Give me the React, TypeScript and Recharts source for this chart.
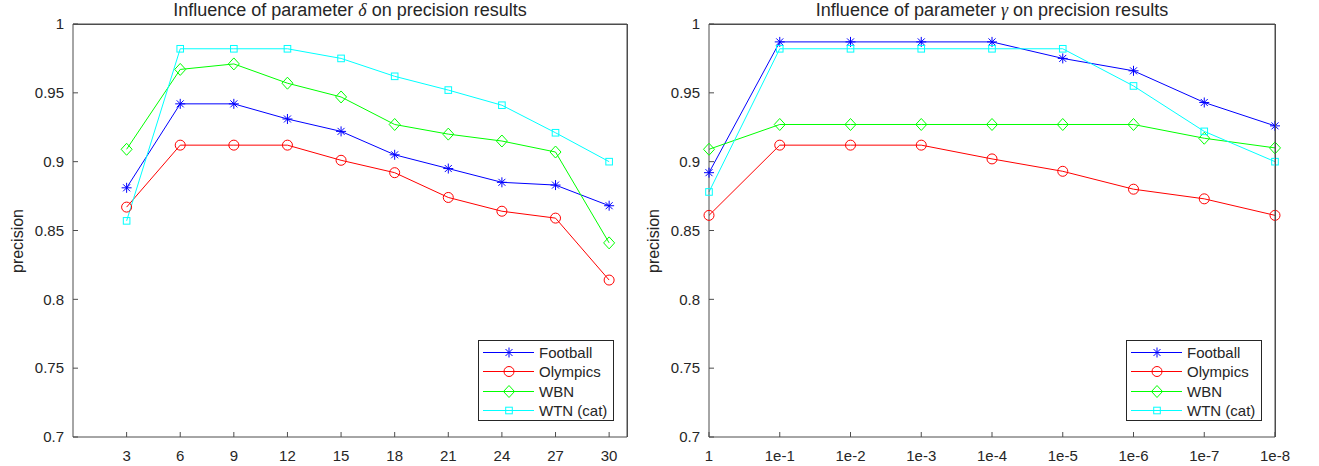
import React from 'react';
import { LineChart, Line, XAxis, YAxis } from 'recharts';

// x values
const deltaValues = [3, 6, 9, 12, 15, 18, 21, 24, 27, 30];
const gammaLabels = ['1', '1e-1', '1e-2', '1e-3', '1e-4', '1e-5', '1e-6', '1e-7', '1e-8'];
const precisionTicks = [0.7, 0.75, 0.8, 0.85, 0.9, 0.95, 1];

// precision vs delta
const deltaFootball = [0.881, 0.942, 0.942, 0.931, 0.922, 0.905, 0.895, 0.885, 0.883, 0.868];
const deltaOlympics = [0.867, 0.912, 0.912, 0.912, 0.901, 0.892, 0.874, 0.864, 0.859, 0.814];
const deltaWBN = [0.909, 0.967, 0.971, 0.957, 0.947, 0.927, 0.92, 0.915, 0.907, 0.841];
const deltaWTN = [0.857, 0.982, 0.982, 0.982, 0.975, 0.962, 0.952, 0.941, 0.921, 0.9];

// precision vs gamma
const gammaFootball = [0.892, 0.987, 0.987, 0.987, 0.987, 0.975, 0.966, 0.943, 0.926];
const gammaOlympics = [0.861, 0.912, 0.912, 0.912, 0.902, 0.893, 0.88, 0.873, 0.861];
const gammaWBN = [0.909, 0.927, 0.927, 0.927, 0.927, 0.927, 0.927, 0.917, 0.91];
const gammaWTN = [0.878, 0.982, 0.982, 0.982, 0.982, 0.982, 0.955, 0.922, 0.9];

// half of the series sit on the top/right axes so those (box) axes get drawn too
const seriesInfo = [
  { key: 'football', name: 'Football', color: '#0000ff', marker: 'star', xId: 'bottom', yId: 'left' },
  { key: 'olympics', name: 'Olympics', color: '#ff0000', marker: 'circle', xId: 'bottom', yId: 'left' },
  { key: 'wbn', name: 'WBN', color: '#00ff00', marker: 'diamond', xId: 'top', yId: 'right' },
  { key: 'wtn', name: 'WTN (cat)', color: '#00ffff', marker: 'square', xId: 'top', yId: 'right' },
];

const deltaData = deltaValues.map((d, i) => ({
  x: d,
  football: deltaFootball[i],
  olympics: deltaOlympics[i],
  wbn: deltaWBN[i],
  wtn: deltaWTN[i],
}));

const gammaData = gammaLabels.map((g, i) => ({
  x: g,
  football: gammaFootball[i],
  olympics: gammaOlympics[i],
  wbn: gammaWBN[i],
  wtn: gammaWTN[i],
}));

const FONT = '"Liberation Sans", Arial, Helvetica, sans-serif';
const TEXT = '#262626';
const AXIS = '#4d4d4d';

function Marker({ shape, color, cx, cy }: { shape: string; color: string; cx: number; cy: number }) {
  if (shape === 'circle') return <circle cx={cx} cy={cy} r={5} fill="none" stroke={color} strokeWidth={1} />;
  if (shape === 'diamond')
    return (
      <polygon
        points={`${cx},${cy - 6} ${cx + 5.5},${cy} ${cx},${cy + 6} ${cx - 5.5},${cy}`}
        fill="none"
        stroke={color}
        strokeWidth={1}
      />
    );
  if (shape === 'square') return <rect x={cx - 3.3} y={cy - 3.3} width={6.6} height={6.6} fill="none" stroke={color} strokeWidth={1} />;
  const r = 5;
  const d = r * 0.7;
  return (
    <g stroke={color} strokeWidth={1}>
      <line x1={cx - r} y1={cy} x2={cx + r} y2={cy} />
      <line x1={cx} y1={cy - r} x2={cx} y2={cy + r} />
      <line x1={cx - d} y1={cy - d} x2={cx + d} y2={cy + d} />
      <line x1={cx - d} y1={cy + d} x2={cx + d} y2={cy - d} />
    </g>
  );
}

const makeDot = (shape: string, color: string) => (props: any) => {
  const { cx, cy, index } = props;
  if (cx == null || cy == null) return <g key={index} />;
  return <Marker key={index} shape={shape} color={color} cx={cx} cy={cy} />;
};

function LegendBox({ left, top }: { left: number; top: number }) {
  return (
    <div
      style={{
        position: 'absolute',
        left,
        top,
        width: 136,
        height: 81,
        border: '1px solid #262626',
        background: '#fff',
        boxSizing: 'border-box',
        paddingTop: 2,
      }}
    >
      {seriesInfo.map((s) => (
        <div key={s.key} style={{ display: 'flex', alignItems: 'center', height: 19.3 }}>
          <svg width={60} height={19} style={{ flex: 'none' }}>
            <line x1={4} y1={9.5} x2={55} y2={9.5} stroke={s.color} strokeWidth={1} />
            <Marker shape={s.marker} color={s.color} cx={30} cy={9.5} />
          </svg>
          <span style={{ fontFamily: FONT, fontSize: 15, color: TEXT, whiteSpace: 'nowrap' }}>{s.name}</span>
        </div>
      ))}
    </div>
  );
}

interface PanelProps {
  data: any[];
  numeric: boolean;
  left: number;
  width: number;
  marginLeft: number;
  marginRight: number;
  title: React.ReactNode;
}

const tickStyle = { fill: TEXT, fontSize: 15, fontFamily: FONT };

function Panel({ data, numeric, left, width, marginLeft, marginRight, title }: PanelProps) {
  const plotLeft = marginLeft + 60;
  const plotRight = width - marginRight - 20;
  const xCommon = numeric
    ? { type: 'number' as const, domain: [0, 31], ticks: deltaValues }
    : { type: 'category' as const };
  return (
    <div style={{ position: 'absolute', left, top: 0, width, height: 466 }}>
      <LineChart width={width} height={466} data={data} margin={{ top: 4, right: marginRight, bottom: 0, left: marginLeft }}>
        <XAxis
          xAxisId="bottom"
          dataKey="x"
          {...xCommon}
          interval={0}
          height={29}
          tickSize={-5}
          tickMargin={18}
          stroke={AXIS}
          tick={tickStyle}
        />
        <XAxis
          xAxisId="top"
          dataKey="x"
          {...xCommon}
          interval={0}
          orientation="top"
          height={20}
          tickSize={-5}
          stroke={AXIS}
          tick={false}
        />
        <YAxis
          yAxisId="left"
          type="number"
          domain={[0.7, 1]}
          ticks={precisionTicks}
          interval={0}
          width={60}
          tickSize={-5}
          tickMargin={14}
          stroke={AXIS}
          tick={tickStyle}
          tickFormatter={(v: number) => String(Number(v.toFixed(2)))}
        />
        <YAxis
          yAxisId="right"
          orientation="right"
          type="number"
          domain={[0.7, 1]}
          ticks={precisionTicks}
          interval={0}
          width={20}
          tickSize={-5}
          stroke={AXIS}
          tick={false}
        />
        {seriesInfo.map((s) => (
          <Line
            key={s.key}
            xAxisId={s.xId}
            yAxisId={s.yId}
            dataKey={s.key}
            name={s.name}
            stroke={s.color}
            strokeWidth={1}
            dot={makeDot(s.marker, s.color)}
            activeDot={false}
            isAnimationActive={false}
          />
        ))}
      </LineChart>
      {/* box frame (top and right edges of the axes) */}
      <div
        style={{
          position: 'absolute',
          left: plotLeft,
          top: 23.5,
          width: plotRight - plotLeft + 0.5,
          height: 413,
          borderTop: `1px solid ${AXIS}`,
          borderRight: `1px solid ${AXIS}`,
          boxSizing: 'border-box',
          pointerEvents: 'none',
        }}
      />
      <div
        style={{
          position: 'absolute',
          left: plotLeft,
          width: plotRight - plotLeft,
          top: 0,
          textAlign: 'center',
          fontFamily: FONT,
          fontSize: 18,
          color: TEXT,
          whiteSpace: 'nowrap',
        }}
      >
        {title}
      </div>
      <div
        style={{
          position: 'absolute',
          left: plotLeft - 73 + 18,
          top: 241,
          transform: 'translate(-50%, -50%) rotate(-90deg)',
          fontFamily: FONT,
          fontSize: 16,
          color: TEXT,
          whiteSpace: 'nowrap',
        }}
      >
        precision
      </div>
      <LegendBox left={plotRight - 149} top={340} />
    </div>
  );
}

export default function App() {
  return (
    <div style={{ position: 'absolute', left: 0, top: 0, width: 1319, height: 466, background: '#fff', overflow: 'hidden' }}>
      <Panel
        data={deltaData}
        numeric
        left={0}
        width={660}
        marginLeft={13}
        marginRight={13}
        title={
          <span>
            Influence of parameter <i style={{ fontFamily: '"Liberation Serif", serif' }}>δ</i> on precision results
          </span>
        }
      />
      <Panel
        data={gammaData}
        numeric={false}
        left={640}
        width={679}
        marginLeft={9}
        marginRight={24}
        title={
          <span>
            Influence of parameter <i style={{ fontFamily: '"Liberation Serif", serif' }}>γ</i> on precision results
          </span>
        }
      />
    </div>
  );
}
